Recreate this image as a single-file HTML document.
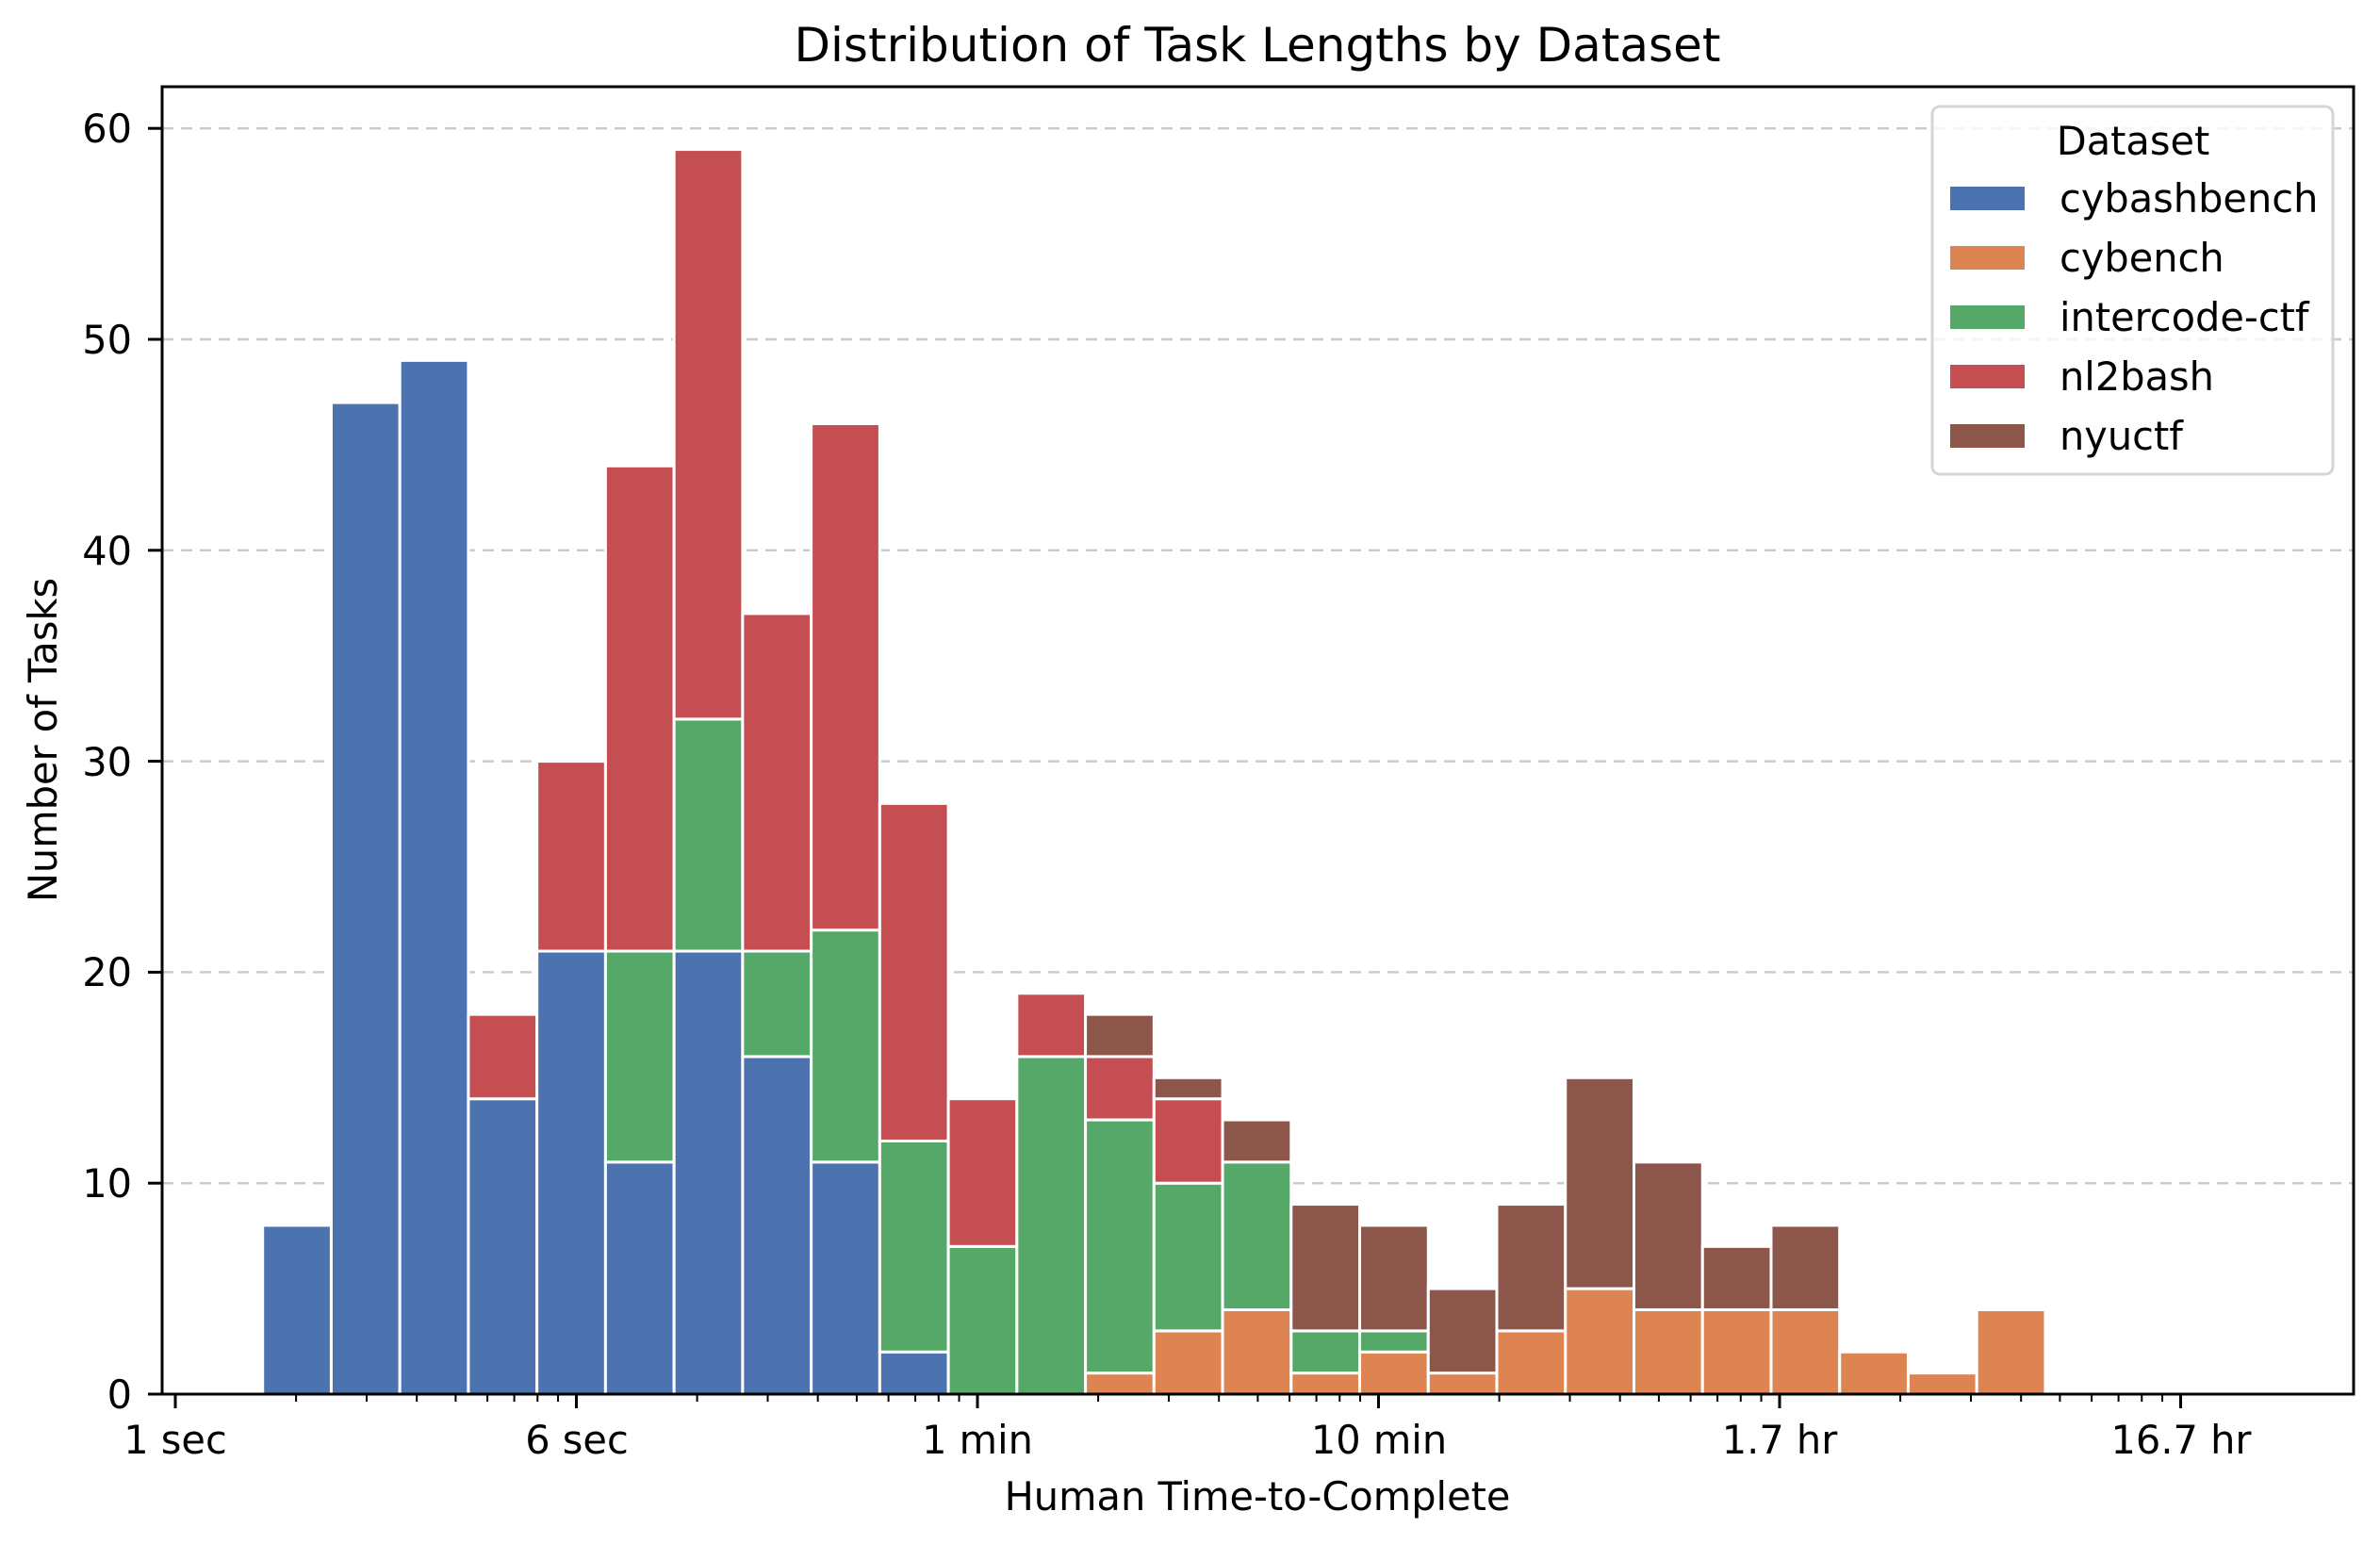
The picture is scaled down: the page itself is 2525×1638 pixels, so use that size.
<!DOCTYPE html>
<html><head><meta charset="utf-8"><style>
html,body{margin:0;padding:0;background:#fff}
svg{display:block;font-family:"DejaVu Sans","Liberation Sans",sans-serif}
</style></head><body>
<svg id="s" width="2525" height="1638" viewBox="0 0 2525 1638" xmlns="http://www.w3.org/2000/svg">
<rect width="2525" height="1638" fill="#fff"/>
<g id="grid" stroke="#cccccc" stroke-width="2.5" stroke-dasharray="12,8">
<line x1="172" x2="2497" y1="1255.2" y2="1255.2"/>
<line x1="172" x2="2497" y1="1031.4" y2="1031.4"/>
<line x1="172" x2="2497" y1="807.6" y2="807.6"/>
<line x1="172" x2="2497" y1="583.8" y2="583.8"/>
<line x1="172" x2="2497" y1="360" y2="360"/>
<line x1="172" x2="2497" y1="136.2" y2="136.2"/>
</g>
<g id="bars" stroke="#fff" stroke-width="3"></g>
<rect x="172" y="92" width="2325" height="1387" fill="none" stroke="#000" stroke-width="3"/>
<g id="ticks" stroke="#000" stroke-width="3"></g>
<g font-size="41.5" text-anchor="end" fill="#000">
<text x="140" y="1494">0</text>
<text x="140" y="1270">10</text>
<text x="140" y="1046">20</text>
<text x="140" y="823">30</text>
<text x="140" y="599">40</text>
<text x="140" y="375">50</text>
<text x="140" y="151">60</text>
</g>
<g font-size="41.5" text-anchor="middle" fill="#000">
<text x="186" y="1542">1 sec</text>
<text x="612" y="1542">6 sec</text>
<text x="1037" y="1542">1 min</text>
<text x="1463" y="1542">10 min</text>
<text x="1888" y="1542">1.7 hr</text>
<text x="2314" y="1542">16.7 hr</text>
<text x="1334" y="1602">Human Time-to-Complete</text>
<text x="1334" y="65" font-size="50">Distribution of Task Lengths by Dataset</text>
<text transform="translate(60,785) rotate(-90)">Number of Tasks</text>
</g>
<rect x="2050" y="113" width="425" height="390" rx="8" fill="#fff" fill-opacity="0.8" stroke="#d5d5d5" stroke-width="3"/>
<g font-size="41.5" fill="#000">
<text x="2263" y="164" text-anchor="middle">Dataset</text>
<rect x="2069" y="198" width="79" height="25" fill="#4c72b0"/><text x="2185" y="225">cybashbench</text>
<rect x="2069" y="261" width="79" height="25" fill="#dd8452"/><text x="2185" y="288">cybench</text>
<rect x="2069" y="324" width="79" height="25" fill="#55a868"/><text x="2185" y="351">intercode-ctf</text>
<rect x="2069" y="387" width="79" height="25" fill="#c44e52"/><text x="2185" y="414">nl2bash</text>
<rect x="2069" y="450" width="79" height="25" fill="#8c564b"/><text x="2185" y="477">nyuctf</text>
</g>
</svg>
<script>
(function(){
var NS="http://www.w3.org/2000/svg";
var cols=["#4c72b0","#dd8452","#55a868","#c44e52","#8c564b"];
var d=[
[8],[47],[49],[14,null,null,18],[21,null,null,30],[11,null,21,44],[21,null,32,59],[16,null,21,37],[11,null,22,46],[2,null,12,28],
[null,null,7,14],[null,null,16,19],[null,1,13,16,18],[null,3,10,14,15],[null,4,11,null,13],[null,1,3,null,9],[null,2,3,null,8],
[null,1,null,null,5],[null,3,null,null,9],[null,5,null,null,15],[null,4,null,null,11],[null,4,null,null,7],[null,4,null,null,8],
[null,2],[null,1],[null,4]];
var g=document.getElementById("bars");
var x0=278.7,w=72.74;
function Y(v){return 1479-22.38*v;}
d.forEach(function(b,i){
 var base=0;
 for(var k=0;k<b.length;k++){
  if(b[k]==null)continue;
  var r=document.createElementNS(NS,"rect");
  r.setAttribute("x",x0+i*w);r.setAttribute("width",w);
  r.setAttribute("y",Y(b[k]));r.setAttribute("height",Y(base)-Y(b[k]));
  r.setAttribute("fill",cols[k]);g.appendChild(r);base=b[k];
 }
});
var t=document.getElementById("ticks");
function ln(x,l){var e=document.createElementNS(NS,"line");e.setAttribute("x1",x);e.setAttribute("x2",x);e.setAttribute("y1",1479);e.setAttribute("y2",1479+l);if(l<10)e.setAttribute("stroke-width","2");t.appendChild(e);}
for(var k=0;k<6;k++){
 var bx=186+425.5*k; ln(bx,15);
 if(k<5)for(var m=2;m<10;m++)ln(bx+425.5*Math.log10(m),8);
}
for(var m=2;m<10;m++){var xx=186-425.5+425.5*Math.log10(m);if(xx>172)ln(xx,8);}
[0,10,20,30,40,50,60].forEach(function(v){var e=document.createElementNS(NS,"line");e.setAttribute("x1",157);e.setAttribute("x2",172);e.setAttribute("y1",Y(v));e.setAttribute("y2",Y(v));t.appendChild(e);});
})();
</script>
</body></html>
